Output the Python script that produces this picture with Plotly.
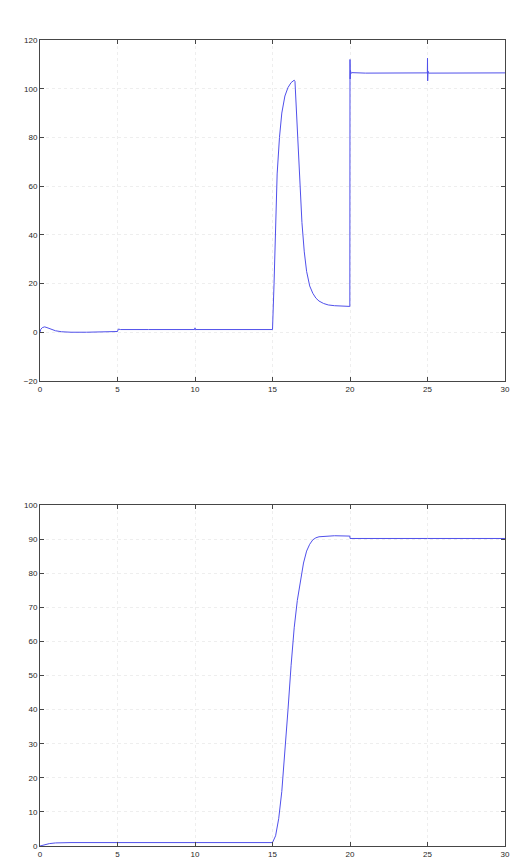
import plotly.graph_objects as go
from plotly.subplots import make_subplots

# Top signal
t_top = [0.0, 0.05, 0.15, 0.3, 0.45, 0.7, 1.0, 1.4, 2.0, 3.0, 4.0, 4.99, 5.0, 5.05, 5.2, 7.0, 9.98, 10.0, 10.02, 12.0, 14.99,
         15.0, 15.1, 15.2, 15.3, 15.45, 15.6, 15.8, 16.0, 16.2, 16.4, 16.45, 16.55, 16.65, 16.75, 16.9, 17.05, 17.2,
         17.4, 17.6, 17.8, 18.0, 18.3, 18.6, 19.0, 19.5, 19.99,
         20.0, 20.01, 20.03, 20.06, 20.1, 21.0, 22.0, 24.99, 25.0, 25.01, 25.03, 25.06, 30.0]
y_top = [0.0, 1.2, 1.9, 2.2, 1.9, 1.2, 0.6, 0.2, 0.0, 0.0, 0.0, 0.0, 0.3, 1.3, 1.1, 1.1, 1.1, 1.8, 1.1, 1.1, 1.1,
         1.1, 20.0, 45.0, 65.0, 80.0, 90.0, 97.0, 100.5, 102.5, 103.5, 103.0, 90.0, 75.0, 62.0, 45.0, 33.0, 25.0,
         19.0, 16.0, 14.0, 12.8, 11.8, 11.2, 10.9, 10.7, 10.6,
         112.0, 104.0, 107.5, 106.2, 106.6, 106.4, 106.5, 106.5, 112.5, 103.2, 107.2, 106.4, 106.5]

# Bottom signal
t_bot = [0.0, 0.3, 0.6, 1.0, 2.0, 5.0, 10.0, 15.0, 15.2, 15.4, 15.6, 15.8, 16.0, 16.2, 16.4, 16.6, 16.8, 17.0,
         17.2, 17.4, 17.6, 17.8, 18.0, 18.5, 19.0, 19.99, 20.0, 25.0, 30.0]
y_bot = [0.0, 0.4, 0.7, 0.9, 1.0, 1.0, 1.0, 1.0, 3.0, 8.0, 16.0, 27.0, 40.0, 53.0, 64.0, 72.0, 78.0, 83.0,
         86.5, 88.5, 89.8, 90.4, 90.7, 90.9, 91.0, 90.9, 90.2, 90.2, 90.2]

top_ticks = [-20, 0, 20, 40, 60, 80, 100, 120]
bot_ticks = [0, 10, 20, 30, 40, 50, 60, 70, 80, 90, 100]
x_ticks = [0, 5, 10, 15, 20, 25, 30]

fig = make_subplots(rows=2, cols=1, vertical_spacing=0.154)
line = dict(color="rgb(80,80,235)", width=1)
fig.add_trace(go.Scatter(x=t_top, y=y_top, mode="lines", line=line, showlegend=False), row=1, col=1)
fig.add_trace(go.Scatter(x=t_bot, y=y_bot, mode="lines", line=line, showlegend=False), row=2, col=1)

axis_style = dict(showgrid=True, gridcolor="rgb(238,238,238)", griddash="dot", gridwidth=1,
                  showline=True, linecolor="rgb(70,70,70)", linewidth=1, mirror="ticks",
                  ticks="inside", ticklen=4, tickcolor="rgb(70,70,70)", zeroline=False,
                  tickfont=dict(family="Liberation Sans, Arial", size=8, color="rgb(40,40,40)"))

fig.update_xaxes(range=[0, 30], tickvals=x_ticks, **axis_style)
fig.update_yaxes(**axis_style)
fig.update_yaxes(range=[-20, 120], tickvals=top_ticks, row=1, col=1)
fig.update_yaxes(range=[0, 100], tickvals=bot_ticks, row=2, col=1)
fig.update_layout(width=527, height=868, margin=dict(l=32, r=30, t=32, b=30),
                  plot_bgcolor="white", paper_bgcolor="white")
fig.layout.yaxis.domain = [0.577, 1.0]
fig.layout.yaxis2.domain = [0.0, 0.423]
fig.update_xaxes(ticklabelstandoff=0)
fig.write_html("out.html")
